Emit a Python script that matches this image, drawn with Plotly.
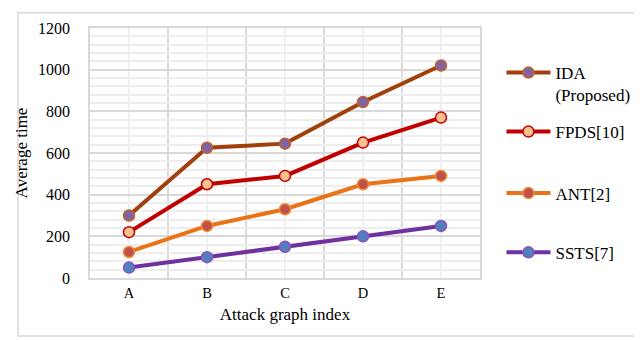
import plotly.graph_objects as go

categories = ["A", "B", "C", "D", "E"]
ida = [300, 625, 645, 845, 1020]
fpds = [220, 450, 490, 650, 770]
ant = [125, 250, 330, 450, 490]
ssts = [50, 100, 150, 200, 250]

series = [
    ("IDA<br>(Proposed)", ida, "#A0410D", "#8064A2", "#C0602A"),
    ("FPDS[10]", fpds, "#C00000", "#FAC090", "#C00000"),
    ("ANT[2]", ant, "#E97418", "#C0504D", "#F08A30"),
    ("SSTS[7]", ssts, "#7030A0", "#4F81BD", "#8A50C0"),
]
legend_ids = ["legend", "legend2", "legend3", "legend4"]
legend_y = [0.892, 0.656, 0.410, 0.173]

xs = list(range(len(categories)))
fig = go.Figure()
for i, (name, vals, lc, mf, ml) in enumerate(series):
    fig.add_trace(go.Scatter(
        x=xs, y=vals, name=name, mode="lines+markers",
        line=dict(color=lc, width=4),
        marker=dict(size=11, color=mf, line=dict(color=ml, width=1.5)),
        legend=legend_ids[i],
    ))

font_family = "Liberation Serif, Times New Roman, serif"
legend_common = dict(
    x=1.055, xanchor="left", yanchor="top",
    font=dict(family=font_family, size=17, color="#000000"),
    valign="top", itemwidth=44, bgcolor="rgba(0,0,0,0)",
)
layout_legends = {}
for lid, ly in zip(legend_ids, legend_y):
    layout_legends[lid] = dict(legend_common, y=ly)

fig.update_layout(
    width=642, height=340,
    margin=dict(l=74, r=170, t=16, b=70),
    paper_bgcolor="white", plot_bgcolor="white",
    font=dict(family=font_family, size=15, color="#000000"),
    showlegend=True,
    xaxis=dict(
        range=[-0.5, 4.5], tickmode="array", tickvals=xs, ticktext=categories,
        showgrid=True, gridcolor="#F0F0F0", gridwidth=1.5,
        minor=dict(tickmode="array", tickvals=[x - 0.5 for x in xs] + [4.5],
                   showgrid=True, gridcolor="#D9D9D9", gridwidth=1.5),
        showline=True, linecolor="#D9D9D9", linewidth=1.5, mirror=True,
        zeroline=False, ticks="", ticklabelstandoff=1,
        tickfont=dict(family=font_family, size=14.5, color="#000000"),
        title=dict(text="Attack graph index", font=dict(family=font_family, size=17), standoff=8),
    ),
    yaxis=dict(
        range=[0, 1200], dtick=200, tick0=0,
        showgrid=True, gridcolor="#D9D9D9", gridwidth=1.5,
        minor=dict(dtick=40, showgrid=True, gridcolor="#EDEDED", gridwidth=1.5),
        showline=True, linecolor="#D9D9D9", linewidth=1.5, mirror=True,
        zeroline=False, ticks="", ticklabelstandoff=15,
        tickfont=dict(family=font_family, size=16, color="#000000"),
        title=dict(text="Average time", font=dict(family=font_family, size=17), standoff=6),
    ),
    shapes=[dict(type="rect", xref="paper", yref="paper",
                 x0=-0.1846, x1=1.397, y0=-0.2323, y1=1.061,
                 line=dict(color="#D9D9D9", width=1.5), layer="below")],
    **layout_legends,
)

fig.write_html("out.html")
